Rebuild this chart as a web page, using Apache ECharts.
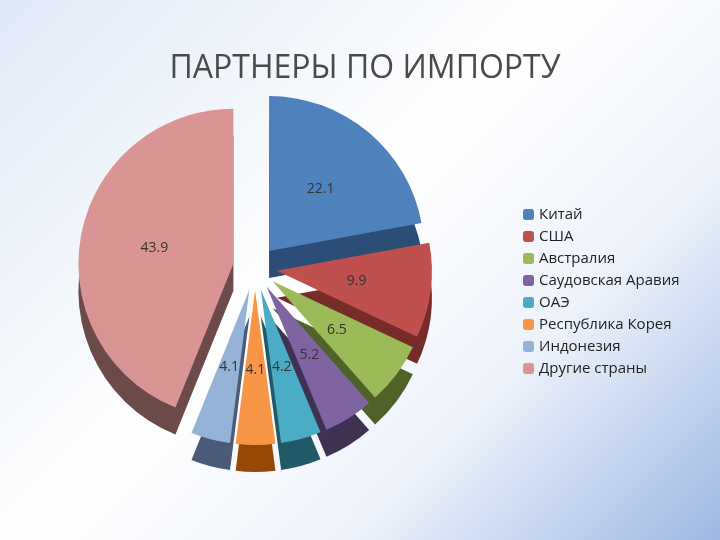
<!DOCTYPE html>
<html>
<head>
<meta charset="utf-8">
<script src="https://cdn.jsdelivr.net/npm/echarts@6/dist/echarts.min.js"></script>
<style>
html,body{margin:0;height:100%;}
#main{width:720px;height:540px;background:linear-gradient(135deg,#dfe9f6 0%,#ffffff 45%,#eef3fb 70%,#9fb8e2 100%);}
</style>
</head>
<body>
<div id="main"></div>
<script>
var names = ['Китай','США','Австралия','Саудовская Аравия','ОАЭ','Республика Корея','Индонезия','Другие страны'];
var values = [22.1, 9.9, 6.5, 5.2, 4.2, 4.1, 4.1, 43.9];
var colors = ['#4f81bd','#c0504d','#9bbb59','#8064a2','#4bacc6','#f79646','#95b3d7','#d99594'];
var sideColors = ['#2c4d75','#772c2a','#4f6228','#3f3151','#215968','#974806','#4a5a78','#6b4a49'];

var myChart = echarts.init(document.getElementById('main'));

function items(cols) {
    return names.map(function (n, i) {
        return {name: n, value: values[i], selected: true, itemStyle: {color: cols[i]}};
    });
}

myChart.setOption({
    title: {
        text: 'ПАРТНЕРЫ ПО ИМПОРТУ',
        left: 360, textAlign: 'center', top: 48,
        textStyle: {fontFamily: 'Open Sans', fontSize: 32, fontWeight: 'normal', color: '#4a4a4a'}
    },
    legend: {
        orient: 'vertical', left: 518, top: 202,
        itemWidth: 11, itemHeight: 11, itemGap: 7,
        data: names.map(function (n, i) {
            return {name: n, itemStyle: {color: colors[i]}};
        }),
        textStyle: {fontFamily: 'Open Sans', fontSize: 15, color: '#222'}
    },
    series: [
        {
            type: 'pie', center: [255, 295], radius: [0, 155],
            startAngle: 90, selectedMode: 'multiple', selectedOffset: 22,
            silent: true, legendHoverLink: false, z: 1,
            label: {show: false}, labelLine: {show: false},
            data: items(sideColors)
        },
        {
            type: 'pie', center: [255, 268], radius: [0, 155],
            startAngle: 90, selectedMode: 'multiple', selectedOffset: 22, z: 2,
            label: {
                show: true, position: 'inside', formatter: '{c}',
                fontFamily: 'Open Sans', fontSize: 14, color: '#333'
            },
            labelLine: {show: false},
            data: items(colors)
        }
    ]
});
</script>
</body>
</html>
